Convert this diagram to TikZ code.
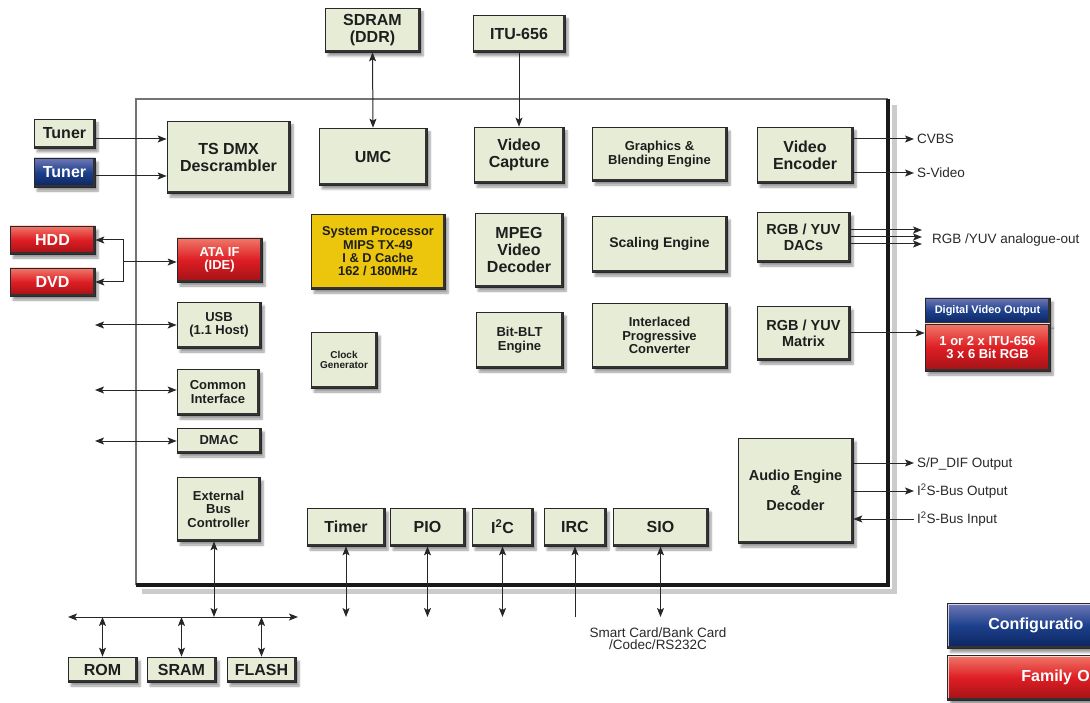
\documentclass[tikz,border=0pt]{standalone}
\usepackage{fontspec}
\setmainfont{Liberation Sans}
\usetikzlibrary{arrows.meta,shadows,shadows.blur,positioning}

\definecolor{boxfill}{RGB}{231,236,214}
\definecolor{boxline}{RGB}{40,40,40}
\definecolor{txtdark}{RGB}{30,30,30}
\definecolor{redmid}{RGB}{222,30,36}
\definecolor{redtop}{RGB}{240,120,105}
\definecolor{redbot}{RGB}{160,18,22}
\definecolor{bluemid}{RGB}{28,64,140}
\definecolor{bluetop}{RGB}{112,120,182}
\definecolor{bluebot}{RGB}{12,36,92}
\definecolor{cpuyellow}{RGB}{236,198,12}
\definecolor{lblgray}{RGB}{40,40,40}

\begin{document}
\begin{tikzpicture}[x=1pt,y=-1pt,
  >={Stealth[length=9pt,width=7pt,inset=2pt]},
  conn/.style={draw=black!85, line width=1pt},
  blk/.style={draw=boxline, line width=0.7pt, fill=boxfill, text=txtdark, align=center, inner sep=1pt,
    blur shadow={shadow xshift=3pt, shadow yshift=-4pt, shadow blur steps=6},
    path picture={
      \draw[white, opacity=.7, line width=2.4pt] (path picture bounding box.south west) -- (path picture bounding box.north west) -- (path picture bounding box.north east);
      \draw[black!80, line width=4pt] (path picture bounding box.north east) -- (path picture bounding box.south east) -- (path picture bounding box.south west);}},
  redblk/.style={blk, text=white, top color=redtop, bottom color=redbot, middle color=redmid},
  blueblk/.style={blk, text=white, top color=bluetop, bottom color=bluebot, middle color=bluemid},
  cpublk/.style={blk, fill=cpuyellow},
  big/.style={font=\bfseries\fontsize{16}{17}\selectfont},
  mid/.style={font=\bfseries\fontsize{13}{13.5}\selectfont},
  sml/.style={font=\bfseries\fontsize{10}{10}\selectfont},
  lbl/.style={font=\fontsize{13.5}{12}\selectfont, text=lblgray, inner sep=3pt, anchor=west, text height=9.7pt, text depth=0pt},
  note/.style={font=\fontsize{13.5}{12}\selectfont, text=lblgray, align=center, inner sep=1pt}
]
\useasboundingbox (0,0) rectangle (1090,703);
\clip (0,0) rectangle (1090,703);

\draw[black!20, line width=5pt] (142,591) -| (894,105);
\draw[black!55, line width=2.5pt] (136,585) |- (888,99);
\draw[black!90, line width=3.5pt] (136,585) -| (888,99);

\node[blk, big, minimum width=95, minimum height=44] (sdram) at (372.5,30) {SDRAM\\(DDR)};
\node[blk, big, minimum width=92, minimum height=37] (itu) at (519,33.5) {ITU-656};
\node[blk, big, minimum width=61, minimum height=29] (tunera) at (64.5,133.5) {Tuner};
\node[blueblk, big, minimum width=61, minimum height=29] (tunerb) at (64.5,172.5) {Tuner};
\node[blk, big, minimum width=123, minimum height=72] (tsdmx) at (228.5,157) {TS DMX\\Descrambler};
\node[blk, big, minimum width=108, minimum height=57] (umc) at (373,156.5) {UMC};
\node[blk, big, minimum width=90, minimum height=56] (vcap) at (519,155) {Video\\Capture};
\node[blk, mid, minimum width=135, minimum height=54] (gfx) at (659.5,154) {Graphics \&\\Blending Engine};
\node[blk, big, minimum width=96, minimum height=56] (venc) at (805,155) {Video\\Encoder};

\node[cpublk, font=\bfseries\fontsize{12.8}{13.3}\selectfont, minimum width=134, minimum height=75] (cpu) at (378,251.5) {System Processor\\MIPS TX-49\\I \& D Cache\\162 / 180MHz};
\node[blk, big, minimum width=88, minimum height=74] (mpeg) at (519,250) {MPEG\\Video\\Decoder};
\node[blk, font=\bfseries\fontsize{14}{15}\selectfont, minimum width=135, minimum height=56] (scale) at (659.5,244) {Scaling Engine};
\node[blk, font=\bfseries\fontsize{14.5}{16}\selectfont, minimum width=93, minimum height=50] (dacs) at (803.5,237) {RGB / YUV\\DACs};

\node[blk, sml, minimum width=66, minimum height=56] (clock) at (344,360) {Clock\\Generator};
\node[blk, mid, minimum width=87, minimum height=56] (bitblt) at (519.5,340) {Bit-BLT\\Engine};
\node[blk, mid, minimum width=135, minimum height=65] (ipc) at (659.5,335.5) {Interlaced\\Progressive\\Converter};
\node[blk, font=\bfseries\fontsize{14.5}{16}\selectfont, minimum width=93, minimum height=54] (matrix) at (803.5,333) {RGB / YUV\\Matrix};

\node[redblk, mid, minimum width=85, minimum height=44] (ata) at (219.5,260) {ATA IF\\(IDE)};
\node[redblk, big, minimum width=85, minimum height=28] (hdd) at (52.5,240) {HDD};
\node[redblk, big, minimum width=85, minimum height=28] (dvd) at (52.5,282) {DVD};
\node[blk, mid, minimum width=84, minimum height=46] (usb) at (219,325) {USB\\(1.1 Host)};
\node[blk, mid, minimum width=82, minimum height=46] (ci) at (218,392) {Common\\Interface};
\node[blk, mid, minimum width=84, minimum height=25] (dmac) at (219,440.5) {DMAC};
\node[blk, mid, minimum width=83, minimum height=64] (ebc) at (218.5,509) {External\\Bus\\Controller};

\node[blk, big, minimum width=69, minimum height=25] (rom) at (102.5,669.5) {ROM};
\node[blk, big, minimum width=69, minimum height=25] (sram) at (181.5,669.5) {SRAM};
\node[blk, big, minimum width=69, minimum height=25] (flash) at (261.5,669.5) {FLASH};

\node[blk, big, minimum width=78, minimum height=38] (timer) at (346,527) {Timer};
\node[blk, big, minimum width=75, minimum height=38] (pio) at (427.5,527) {PIO};
\node[blk, big, minimum width=61, minimum height=38] (i2c) at (502.5,527) {I\textsuperscript{2}C};
\node[blk, big, minimum width=62, minimum height=38] (irc) at (575,527) {IRC};
\node[blk, big, minimum width=95, minimum height=38] (sio) at (660.5,527) {SIO};
\node[blk, font=\bfseries\fontsize{14.5}{15.3}\selectfont, minimum width=115, minimum height=105] (audio) at (795.5,490.5) {Audio Engine\\\&\\Decoder};

\node[blueblk, font=\bfseries\fontsize{11}{12}\selectfont, minimum width=125, minimum height=26] (dvohead) at (987.5,311) {Digital Video Output};
\node[redblk, font=\bfseries\fontsize{13}{13.3}\selectfont, minimum width=125, minimum height=47] (dvobody) at (987.5,347.5) {1 or 2 x ITU-656\\3 x 6 Bit RGB};

\node[blueblk, anchor=north west, minimum height=45, text width=110, inner xsep=41pt, align=left, font=\bfseries\fontsize{16}{17}\selectfont] (config) at (947,603) {Configuratio};
\node[redblk, anchor=north west, minimum height=45, text width=110, inner xsep=74pt, align=left, font=\bfseries\fontsize{16}{17}\selectfont] (family) at (947,655) {Family O};

\node[lbl] (cvbs) at (914,139) {CVBS};
\node[lbl] (svideo) at (914,173) {S-Video};
\node[lbl] (rgbout) at (929,239) {RGB /YUV analogue-out};
\node[lbl] (spdif) at (914,463) {S/P\_DIF Output};
\node[lbl] (i2sout) at (914,491) {I\textsuperscript{2}S-Bus Output};
\node[lbl] (i2sin) at (914,519) {I\textsuperscript{2}S-Bus Input};
\node[note, anchor=north] (sclbl) at (658,627) {Smart Card/Bank Card\\/Codec/RS232C};

\coordinate (hddjn) at (123,262);
\coordinate (usbl) at (95,325);
\coordinate (cil) at (95,390);
\coordinate (dmacl) at (95,441);
\coordinate (busl) at (68,617);
\coordinate (busr) at (298,617);
\coordinate (rgbend) at (922,237);

\draw[conn,<->] (sdram.south) -- (umc.north);
\draw[conn,->] (itu.south) -- (vcap.north);
\draw[conn,->] ([yshift=-5.5pt]tunera.east) -- ([yshift=-5.5pt]tunera.east -| tsdmx.west);
\draw[conn,->] ([yshift=-3.5pt]tunerb.east) -- ([yshift=-3.5pt]tunerb.east -| tsdmx.west);
\draw[conn,->] (hddjn) -- (hddjn -| ata.west);
\draw[conn,->] (hddjn) |- (hdd.east);
\draw[conn,->] (hddjn) |- (dvd.east);
\draw[conn,<->] (usbl) -- (usbl -| usb.west);
\draw[conn,<->] (cil) -- (cil -| ci.west);
\draw[conn,<->] (dmacl) -- (dmacl -| dmac.west);
\draw[conn,<->] (busl) -- (busr);
\draw[conn,<->] ([xshift=-4.5pt]ebc.south) -- ([xshift=-4.5pt]ebc.south |- busl);
\foreach \m in {rom,sram,flash}
  \draw[conn,<->] (\m.north |- busl) -- (\m.north);
\foreach \m in {timer,pio,i2c,sio}
  \draw[conn,<->] (\m.south) -- (\m.south |- busl);
\draw[conn,->] (irc.south |- busl) -- (irc.south);
\draw[conn,->] (venc.east |- cvbs.west) -- (cvbs.west);
\draw[conn,->] (venc.east |- svideo.west) -- (svideo.west);
\foreach \d in {-7,0,7}
  \draw[conn,->] ([yshift=\d pt]dacs.east) -- ([yshift=\d pt]dacs.east -| rgbend);
\draw[conn,->] (matrix.east) -- (matrix.east -| dvobody.west);
\draw[conn,->] (audio.east |- spdif.west) -- (spdif.west);
\draw[conn,->] (audio.east |- i2sout.west) -- (i2sout.west);
\draw[conn,->] (i2sin.west) -- (audio.east |- i2sin.west);
\end{tikzpicture}
\end{document}
